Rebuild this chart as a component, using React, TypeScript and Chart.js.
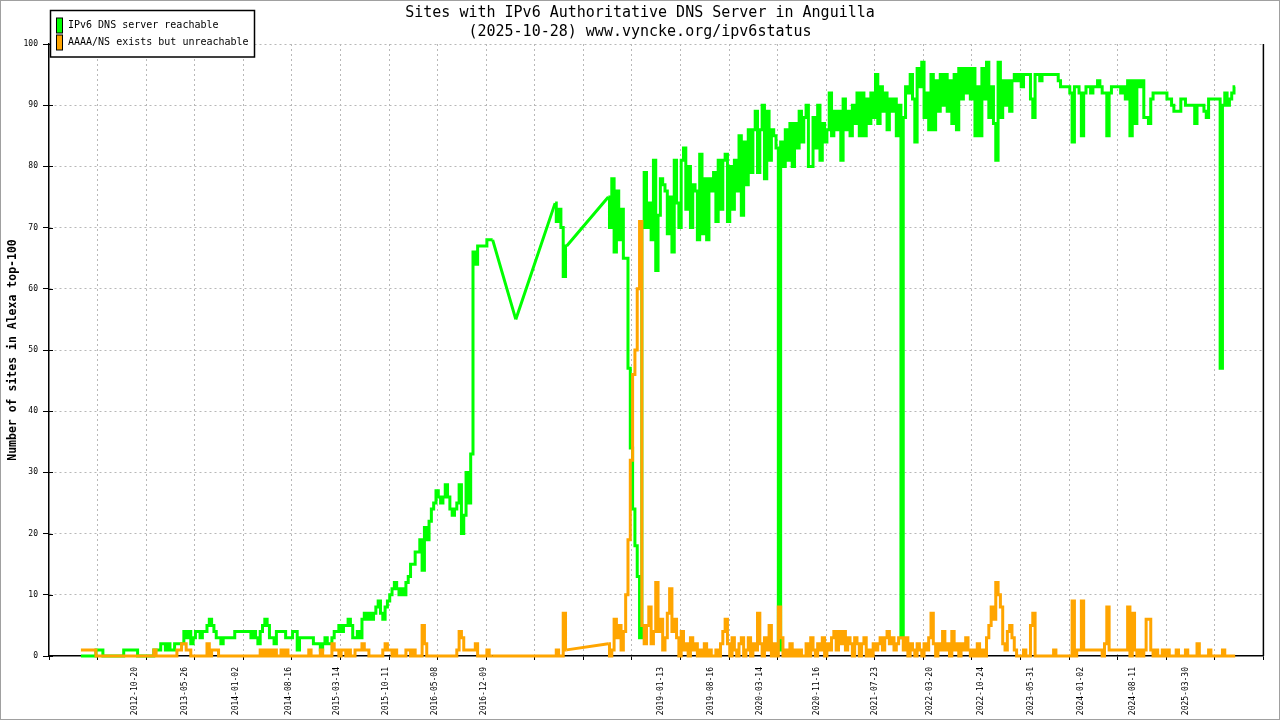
import React, { useEffect, useRef } from 'react';
import { Chart, registerables } from 'chart.js';

Chart.register(...registerables);

const N = null;

const TITLE_LINES = [
  'Sites with IPv6 Authoritative DNS Server in Anguilla',
  '(2025-10-28) www.vyncke.org/ipv6status',
];
const Y_TITLE = 'Number of sites in Alexa top-100';
const SERIES_NAMES = ['IPv6 DNS server reachable', 'AAAA/NS exists but unreachable'];
const SERIES_COLORS = ['#00ff00', '#ffa500'];

// sampling of the series (one value every 10 days)
const FIRST_SAMPLE_DATE = '2012-03-01';
const SAMPLE_STEP_DAYS = 10;

// x axis range and grid
const X_AXIS_START = '2011-10-15';
const X_AXIS_SPAN_DAYS = 5250;
const X_GRID_STEP_DAYS = 210;
const X_TICK_LABELS = [
  '2012-10-20', '2013-05-26', '2014-01-02', '2014-08-16', '2015-03-14', '2015-10-11',
  '2016-05-08', '2016-12-09', '2019-01-13', '2019-08-16', '2020-03-14', '2020-11-16',
  '2021-07-23', '2022-03-20', '2022-10-24', '2023-05-31', '2024-01-02', '2024-08-11',
  '2025-03-30',
];
const Y_MIN = 0;
const Y_MAX = 100;
const Y_STEP = 10;

const reachable: (number | null)[] = [
  0, 0, 0, 0, 0, 0, 0, 1, 1, 1,
  0, 0, 0, 0, 0, 0, 0, 0, 0, 1,
  1, 1, 1, 1, 1, 0, 0, 0, 0, 0,
  0, 0, 1, 1, 1, 2, 2, 1, 2, 1,
  1, 2, 2, 2, 2, 4, 3, 4, 2, 3,
  4, 4, 3, 4, 4, 5, 6, 5, 4, 3,
  3, 2, 3, 3, 3, 3, 3, 4, 4, 4,
  4, 4, 4, 4, 3, 4, 3, 2, 4, 5,
  6, 5, 3, 3, 2, 4, 4, 4, 4, 3,
  3, 3, 4, 4, 1, 3, 3, 3, 3, 3,
  3, 2, 2, 2, 1, 2, 3, 2, 2, 3,
  4, 4, 5, 4, 5, 5, 6, 5, 3, 3,
  4, 3, 6, 7, 6, 7, 6, 7, 8, 9,
  7, 6, 8, 9, 10, 11, 12, 11, 10, 11,
  10, 12, 13, 15, 15, 17, 17, 19, 14, 21,
  19, 22, 24, 25, 27, 26, 25, 26, 28, 26,
  24, 23, 24, 25, 28, 20, 23, 30, 25, 33,
  66, 64, 67, 67, 67, 67, 68, 68, 68, N,
  N, N, N, N, N, N, N, N, 55, N,
  N, N, N, N, N, N, N, N, N, N,
  N, N, N, N, N, 74, 71, 73, 70, 62,
  67, N, N, N, N, N, N, N, N, N,
  N, N, N, N, N, N, N, N, 75, 70,
  78, 66, 76, 68, 73, 65, 65, 47, 34, 24,
  18, 13, 3, 70, 79, 70, 74, 68, 81, 63,
  72, 78, 77, 76, 69, 75, 66, 81, 74, 70,
  81, 83, 73, 80, 70, 77, 76, 68, 82, 69,
  78, 68, 78, 76, 79, 71, 81, 73, 81, 82,
  71, 80, 73, 81, 76, 85, 72, 84, 77, 86,
  79, 86, 89, 79, 86, 90, 78, 89, 81, 86,
  85, 83, 1, 84, 80, 86, 81, 87, 80, 87,
  83, 89, 84, 88, 90, 80, 80, 88, 83, 90,
  81, 87, 84, 86, 92, 85, 89, 86, 89, 81,
  91, 86, 89, 85, 90, 87, 92, 85, 92, 85,
  91, 87, 92, 88, 95, 87, 93, 89, 92, 86,
  91, 89, 91, 85, 90, 3, 88, 93, 92, 95,
  91, 84, 96, 93, 97, 88, 92, 86, 95, 86,
  94, 89, 95, 90, 95, 89, 94, 87, 95, 86,
  96, 91, 96, 92, 96, 91, 96, 85, 93, 85,
  96, 91, 97, 88, 93, 87, 81, 97, 88, 94,
  90, 94, 89, 94, 95, 94, 95, 93, 95, 95,
  95, 91, 88, 95, 95, 94, 95, 95, 95, 95,
  95, 95, 95, 94, 93, 93, 93, 93, 92, 84,
  93, 93, 92, 85, 92, 93, 93, 92, 93, 93,
  94, 93, 92, 92, 85, 92, 93, 93, 93, 93,
  92, 93, 91, 94, 85, 94, 87, 94, 93, 94,
  88, 88, 87, 91, 92, 92, 92, 92, 92, 92,
  91, 91, 90, 89, 89, 89, 91, 91, 90, 90,
  90, 90, 87, 90, 90, 90, 89, 88, 91, 91,
  91, 91, 91, 47, 90, 92, 90, 91, 92, 93,
];

const unreachable: (number | null)[] = [
  1, 1, 1, 1, 1, 1, 1, 0, 0, 0,
  0, 0, 0, 0, 0, 0, 0, 0, 0, 0,
  0, 0, 0, 0, 0, 0, 0, 0, 0, 0,
  0, 0, 1, 0, 0, 0, 0, 0, 0, 0,
  0, 0, 1, 1, 2, 2, 1, 1, 0, 0,
  0, 0, 0, 0, 0, 2, 0, 1, 1, 1,
  0, 0, 0, 0, 0, 0, 0, 0, 0, 0,
  0, 0, 0, 0, 0, 0, 0, 0, 1, 0,
  1, 0, 1, 0, 1, 0, 0, 1, 0, 1,
  0, 0, 0, 0, 0, 0, 0, 0, 0, 1,
  0, 0, 0, 0, 1, 0, 0, 0, 0, 2,
  1, 1, 0, 1, 1, 0, 1, 0, 0, 1,
  1, 1, 2, 1, 1, 0, 0, 0, 0, 0,
  0, 1, 2, 1, 1, 0, 1, 0, 0, 0,
  0, 1, 1, 0, 1, 0, 0, 0, 5, 2,
  0, 0, 0, 0, 0, 0, 0, 0, 0, 0,
  0, 0, 0, 1, 4, 3, 1, 1, 1, 1,
  1, 2, 0, 0, 0, 0, 1, 0, 0, N,
  N, N, N, N, N, N, N, N, N, N,
  N, N, N, N, N, N, N, N, N, N,
  N, N, N, N, N, 0, 1, 0, 0, 7,
  1, N, N, N, N, N, N, N, N, N,
  N, N, N, N, N, N, N, N, 2, 0,
  1, 6, 3, 5, 1, 4, 10, 19, 32, 46,
  50, 60, 71, 5, 2, 5, 8, 2, 4, 12,
  4, 6, 1, 3, 7, 11, 4, 6, 3, 0,
  4, 1, 2, 0, 3, 1, 2, 0, 1, 0,
  2, 0, 1, 0, 0, 1, 0, 2, 4, 6,
  2, 0, 3, 1, 0, 2, 3, 0, 1, 3,
  0, 2, 1, 7, 2, 0, 3, 1, 5, 0,
  2, 0, 8, 3, 0, 1, 0, 2, 0, 1,
  0, 1, 0, 0, 2, 0, 3, 1, 0, 2,
  1, 3, 0, 2, 1, 3, 4, 1, 4, 2,
  4, 1, 3, 2, 0, 3, 2, 0, 2, 3,
  0, 1, 0, 2, 1, 2, 3, 1, 3, 4,
  2, 3, 1, 2, 3, 3, 1, 3, 0, 2,
  1, 0, 2, 1, 0, 2, 1, 3, 7, 2,
  0, 2, 1, 4, 1, 2, 0, 4, 1, 2,
  0, 2, 1, 3, 1, 0, 1, 0, 2, 0,
  1, 0, 3, 5, 8, 6, 12, 10, 8, 2,
  1, 4, 5, 3, 1, 0, 0, 0, 1, 0,
  0, 5, 7, 0, 0, 0, 0, 0, 0, 0,
  0, 1, 0, 0, 0, 0, 0, 0, 0, 9,
  0, 1, 1, 9, 1, 1, 1, 1, 1, 1,
  1, 1, 0, 2, 8, 1, 1, 1, 1, 1,
  1, 1, 1, 8, 0, 7, 1, 0, 1, 0,
  1, 6, 6, 1, 0, 1, 0, 0, 1, 0,
  1, 0, 0, 0, 1, 0, 0, 0, 1, 0,
  0, 0, 0, 2, 0, 0, 0, 0, 1, 0,
  0, 0, 0, 0, 1, 0, 0, 0, 0, 0,
];

const MONO = '"DejaVu Sans Mono", monospace';
const GRID_COLOR = '#b8b8b8';
const CLEAR = 'rgba(0,0,0,0)';
const DAY_MS = 86400000;
const toDay = (s: string) => Math.round(Date.parse(s + 'T00:00:00Z') / DAY_MS);

const decorations = {
  id: 'decorations',
  afterDraw(chart: any) {
    const { ctx, chartArea } = chart;
    ctx.save();
    // right frame of the plot
    ctx.strokeStyle = '#000';
    ctx.lineWidth = 1.5;
    ctx.beginPath();
    ctx.moveTo(chartArea.right, chartArea.top);
    ctx.lineTo(chartArea.right, chartArea.bottom);
    ctx.stroke();
    // inward part of the y ticks
    const ys = chart.scales.y;
    ctx.lineWidth = 1;
    ctx.beginPath();
    ys.ticks.forEach((t: any) => {
      const py = Math.round(ys.getPixelForValue(t.value)) + 0.5;
      ctx.moveTo(chartArea.left, py);
      ctx.lineTo(chartArea.left + 4, py);
    });
    ctx.stroke();
    // legend box
    ctx.fillStyle = '#fff';
    ctx.fillRect(50, 10, 205, 47);
    ctx.strokeStyle = '#000';
    ctx.lineWidth = 1.5;
    ctx.strokeRect(50.5, 10.5, 204, 46.5);
    const rows = [25.5, 42.5];
    SERIES_NAMES.forEach((name, i) => {
      ctx.fillStyle = SERIES_COLORS[i];
      ctx.fillRect(56, rows[i] - 7.5, 6, 15);
      ctx.lineWidth = 1;
      ctx.strokeStyle = '#000';
      ctx.strokeRect(56.5, rows[i] - 7.5, 6, 15);
      ctx.fillStyle = '#000';
      ctx.font = '10px ' + MONO;
      ctx.textBaseline = 'middle';
      ctx.textAlign = 'left';
      ctx.fillText(name, 68, rows[i]);
    });
    // outer image frame
    ctx.strokeStyle = '#a0a0a0';
    ctx.lineWidth = 1;
    ctx.strokeRect(0.5, 0.5, chart.width - 1, chart.height - 1);
    ctx.restore();
  },
};

export default function App() {
  const ref = useRef<HTMLCanvasElement>(null);

  useEffect(() => {
    document.body.style.margin = '0';
    document.body.style.background = '#fff';
    const canvas = ref.current;
    if (!canvas) return;

    const xMin = toDay(X_AXIS_START);
    const xMax = xMin + X_AXIS_SPAN_DAYS;
    const gridVals: number[] = [];
    for (let v = xMin; v <= xMax; v += X_GRID_STEP_DAYS) gridVals.push(v);
    const gridSet = new Set(gridVals);
    const labelMap = new Map<number, string>();
    X_TICK_LABELS.forEach((s) => labelMap.set(toDay(s), s));
    const allTicks = Array.from(new Set([...gridVals, ...labelMap.keys()])).sort((a, b) => a - b);

    const firstDay = toDay(FIRST_SAMPLE_DATE);
    const pointAt = (arr: (number | null)[], i: number) => ({
      x: firstDay + i * SAMPLE_STEP_DAYS,
      y: arr[i],
    });
    const toPoints = (arr: (number | null)[]) => arr.map((_, i) => pointAt(arr, i));
    // straight connectors across the periods without measurements
    const bridges = (arr: (number | null)[]) => {
      const pts: any[] = [];
      let i = 0;
      while (i < arr.length) {
        if (arr[i] === null) {
          let j = i;
          while (j < arr.length && arr[j] === null) j++;
          if (i > 0 && j < arr.length) {
            const a = pointAt(arr, i - 1);
            const b = pointAt(arr, j);
            pts.push(a, b, { x: b.x, y: null });
          }
          i = j;
        } else i++;
      }
      return pts;
    };

    const common = {
      borderWidth: 3,
      pointRadius: 0,
      tension: 0,
      clip: false as any,
      borderCapStyle: 'butt' as const,
    };

    const chart = new Chart(canvas, {
      type: 'line',
      data: {
        datasets: [
          {
            label: SERIES_NAMES[0],
            data: toPoints(reachable) as any,
            borderColor: SERIES_COLORS[0],
            backgroundColor: SERIES_COLORS[0],
            order: 4,
            stepped: 'middle',
            spanGaps: false,
            borderJoinStyle: 'miter',
            ...common,
          },
          {
            label: SERIES_NAMES[0] + ' (gap)',
            data: bridges(reachable) as any,
            borderColor: SERIES_COLORS[0],
            backgroundColor: SERIES_COLORS[0],
            order: 3,
            spanGaps: false,
            borderJoinStyle: 'bevel',
            ...common,
          },
          {
            label: SERIES_NAMES[1],
            data: toPoints(unreachable) as any,
            borderColor: SERIES_COLORS[1],
            backgroundColor: SERIES_COLORS[1],
            order: 2,
            stepped: 'middle',
            spanGaps: false,
            borderJoinStyle: 'miter',
            ...common,
          },
          {
            label: SERIES_NAMES[1] + ' (gap)',
            data: bridges(unreachable) as any,
            borderColor: SERIES_COLORS[1],
            backgroundColor: SERIES_COLORS[1],
            order: 1,
            spanGaps: false,
            borderJoinStyle: 'bevel',
            ...common,
          },
        ],
      },
      options: {
        responsive: false,
        animation: false,
        events: [],
        layout: { padding: 0 },
        plugins: {
          legend: { display: false },
          tooltip: { enabled: false },
          title: {
            display: true,
            text: TITLE_LINES,
            color: '#000',
            font: { family: MONO, size: 15, weight: 'normal', lineHeight: '19px' as any },
            padding: { top: 4, bottom: 2 },
          },
        },
        scales: {
          x: {
            type: 'linear',
            min: xMin,
            max: xMax,
            bounds: 'data',
            afterBuildTicks: (scale: any) => {
              scale.ticks = allTicks.map((v) => ({ value: v }));
            },
            afterFit: (scale: any) => {
              scale.height = 64;
            },
            ticks: {
              autoSkip: false,
              minRotation: 90,
              maxRotation: 90,
              padding: 7,
              color: '#000',
              font: { family: MONO, size: 8 },
              callback: (v: any) => labelMap.get(v) ?? '',
            },
            grid: {
              lineWidth: 1,
              tickLength: 4,
              color: (c: any) => {
                const v = c.tick?.value;
                return gridSet.has(v) && v !== xMin ? GRID_COLOR : CLEAR;
              },
              tickColor: (c: any) => (gridSet.has(c.tick?.value) ? '#000' : CLEAR),
            },
            border: { display: true, color: '#000', width: 1.5, dash: [2, 3] },
          },
          y: {
            type: 'linear',
            min: Y_MIN,
            max: Y_MAX,
            afterFit: (scale: any) => {
              scale.width = 49;
            },
            ticks: {
              stepSize: Y_STEP,
              padding: 5,
              color: '#000',
              font: { family: MONO, size: 8 },
            },
            grid: {
              lineWidth: 1,
              tickLength: 6,
              color: (c: any) => (c.tick?.value === Y_MIN ? CLEAR : GRID_COLOR),
              tickColor: '#000',
            },
            border: { display: true, color: '#000', width: 1.5, dash: [2, 3] },
            title: {
              display: true,
              text: Y_TITLE,
              color: '#000',
              font: { family: MONO, size: 11.5, weight: 'bold' },
              padding: { top: 6, bottom: 0 },
            },
          },
          yRight: {
            type: 'linear',
            position: 'right',
            display: true,
            min: Y_MIN,
            max: Y_MAX,
            ticks: { display: false },
            grid: { display: false, drawTicks: false },
            border: { display: false },
            afterFit: (scale: any) => {
              scale.width = 15;
            },
          },
        },
      },
      plugins: [decorations],
    });

    return () => chart.destroy();
  }, []);

  return (
    <div style={{ width: 1280, height: 720, position: 'relative', background: '#fff' }}>
      <canvas ref={ref} width={1280} height={720} style={{ display: 'block', width: 1280, height: 720 }} />
    </div>
  );
}
